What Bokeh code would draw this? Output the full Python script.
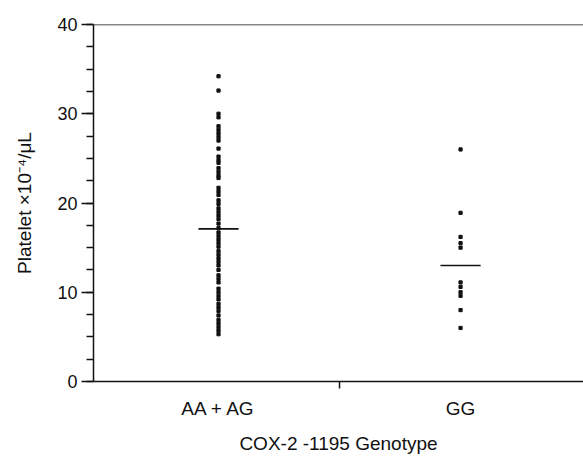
from bokeh.plotting import figure
from bokeh.models import (Range1d, LinearAxis, FixedTicker, SingleIntervalTicker, Span)
from bokeh.embed import file_html
from bokeh.resources import INLINE

# ---- data ----
groups = ["AA + AG", "GG"]
group_pos = [1, 2]
aa_ag_values = [34.2, 32.6, 30.0, 29.6, 28.6, 28.2, 27.8, 27.4, 27.0, 26.1,
                25.2, 24.8, 24.5, 23.9, 23.5, 23.1, 22.8, 21.7, 21.3, 20.9,
                20.3, 19.9, 19.4, 19.0, 18.6, 18.2, 17.7, 17.2, 16.7, 16.3,
                15.9, 15.5, 15.1, 14.6, 14.2, 13.8, 13.4, 13.0, 12.5, 11.9,
                11.5, 11.1, 10.4, 10.0, 9.6, 9.2, 8.7, 8.3, 7.9, 7.4,
                6.9, 6.5, 6.1, 5.7, 5.3]
gg_values = [26.0, 18.9, 16.2, 15.5, 15.0, 11.1, 10.6, 10.0, 9.6, 8.0, 6.0]
group_means = [17.1, 13.0]
y_ticks = [0, 10, 20, 30, 40]
x_title = "COX-2 -1195 Genotype"
y_title = "Platelet \u00d710\u207b\u2074/\u03bcL"

FONT = "Liberation Sans"
INK = "#111111"

p = figure(width=583, height=456, output_backend="svg", toolbar_location=None,
           x_range=Range1d(0.4835, 2.508), y_range=Range1d(0, 40),
           x_axis_type=None, min_border_left=93, min_border_top=24,
           min_border_right=0, min_border_bottom=75)
p.outline_line_color = None
p.grid.visible = False
p.background_fill_color = "white"
p.border_fill_color = "white"

# y axis
ya = p.yaxis[0]
ya.ticker = SingleIntervalTicker(interval=10, num_minor_ticks=4)
ya.axis_line_color = INK
ya.axis_line_width = 1.5
ya.major_tick_line_color = INK
ya.major_tick_line_width = 1.5
ya.major_tick_out = 12
ya.major_tick_in = 0
ya.minor_tick_line_color = INK
ya.minor_tick_line_width = 1.5
ya.minor_tick_out = 7
ya.minor_tick_in = 0
ya.major_label_text_font = FONT
ya.major_label_text_font_size = "18px"
ya.major_label_text_color = INK
ya.major_label_standoff = 4
ya.axis_label = y_title
ya.axis_label_text_font = FONT
ya.axis_label_text_font_size = "19px"
ya.axis_label_text_font_style = "normal"
ya.axis_label_text_color = INK
ya.axis_label_standoff = 19

# x axis line with the single divider tick
xa1 = LinearAxis(ticker=FixedTicker(ticks=[1.5]))
xa1.major_label_overrides = {1.5: ""}
xa1.axis_line_color = INK
xa1.axis_line_width = 1.5
xa1.major_tick_line_color = INK
xa1.major_tick_line_width = 1.5
xa1.major_tick_out = 7
xa1.major_tick_in = 0
xa1.minor_tick_line_color = None
xa1.major_label_text_font_size = "1px"
xa1.major_label_standoff = 0
p.add_layout(xa1, "below")

# x labels axis (no line, no ticks)
xa2 = LinearAxis(ticker=FixedTicker(ticks=group_pos))
xa2.major_label_overrides = {pos: name for pos, name in zip(group_pos, groups)}
xa2.axis_line_color = None
xa2.major_tick_line_color = None
xa2.minor_tick_line_color = None
xa2.major_label_text_font = FONT
xa2.major_label_text_font_size = "19px"
xa2.major_label_text_color = INK
xa2.major_label_standoff = 3
xa2.axis_label = x_title
xa2.axis_label_text_font = FONT
xa2.axis_label_text_font_size = "19px"
xa2.axis_label_text_font_style = "normal"
xa2.axis_label_text_color = INK
xa2.axis_label_standoff = 11
p.add_layout(xa2, "below")

# top frame line
p.add_layout(Span(location=40, dimension="width", line_color=INK, line_width=1.5))

# points
p.scatter([group_pos[0]] * len(aa_ag_values), aa_ag_values, marker="square",
          size=3.2, color=INK)
p.scatter([group_pos[1]] * len(gg_values), gg_values, marker="square",
          size=3.2, color=INK)

# mean lines
half = 0.083
p.segment(x0=[g - half for g in group_pos], y0=group_means,
          x1=[g + half for g in group_pos], y1=group_means,
          line_color=INK, line_width=1.6)

open("out.html", "w").write(file_html(p, INLINE))
